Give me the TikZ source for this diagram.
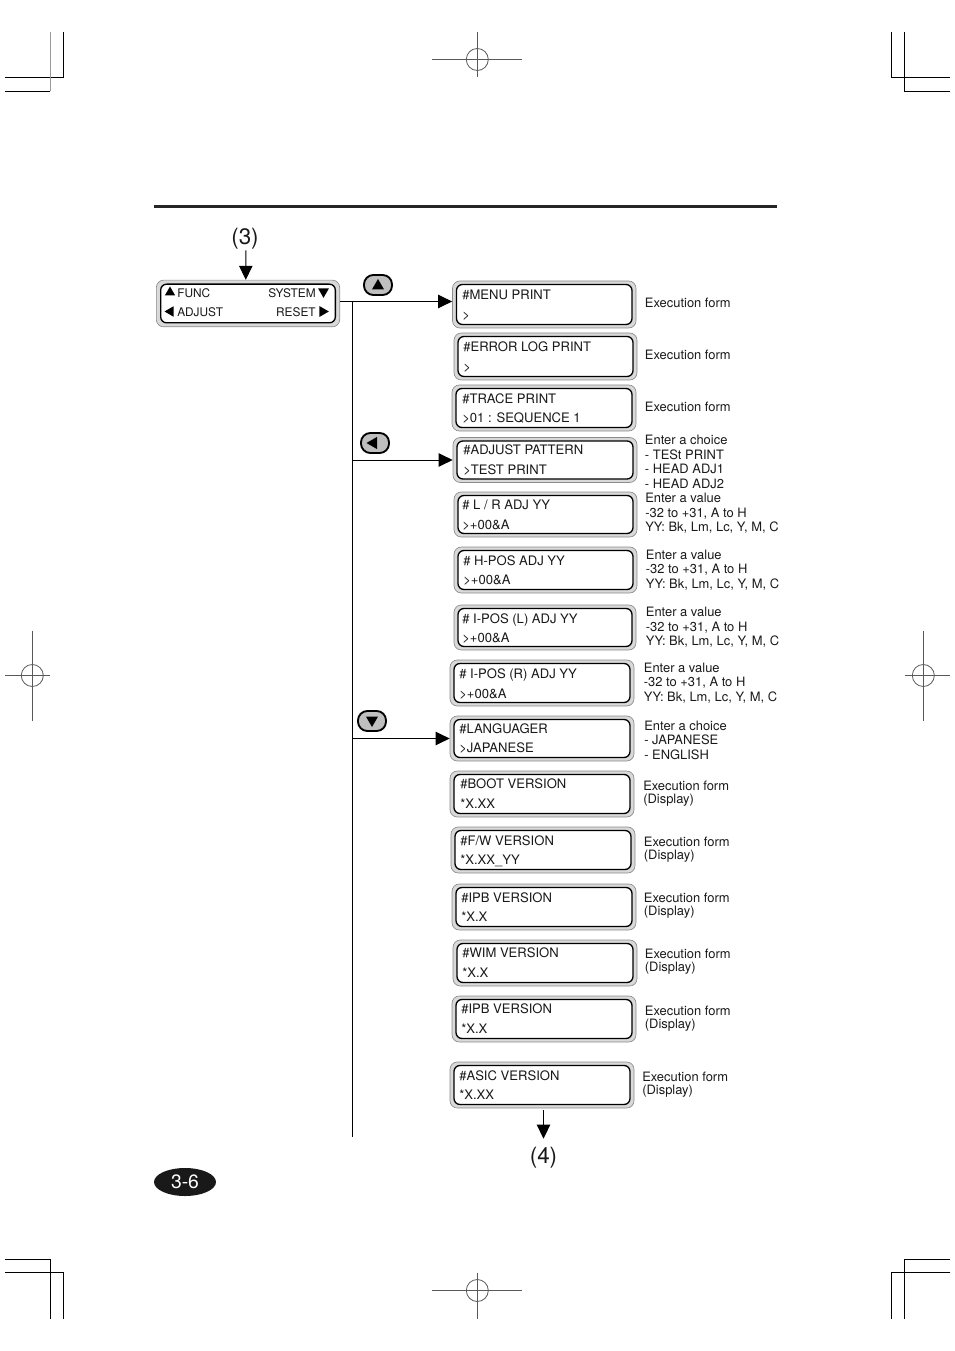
\documentclass[tikz,border=0pt]{standalone}
\usepackage{fontspec}
\setmainfont{TeX Gyre Heros}
\usetikzlibrary{arrows.meta,shapes.geometric}
\tikzset{
    x=0.75pt, y=-0.75pt,
    mark line/.style={draw=black, line width=0.75pt},
    gray mark/.style={draw=black!40, line width=0.75pt},
    cross line/.style={draw=black!65, line width=0.6pt},
    lcd outer/.style={rectangle, draw=black!45, fill=black!15, line width=0.5pt, rounded corners=5.5pt, inner sep=0pt},
    lcd inner/.style={rectangle, draw=black, fill=white, line width=1pt, rounded corners=4.5pt, inner sep=0pt},
    lcd text/.style={anchor=base west, inner sep=0pt, yshift=-3.5pt, font=\fontsize{9.8pt}{10pt}\selectfont, text=black!90},
    small text/.style={anchor=base west, inner sep=0pt, yshift=-3.2pt, font=\fontsize{8.9pt}{10pt}\selectfont, text=black!90},
    note text/.style={anchor=base west, inner sep=0pt, yshift=-3.5pt, font=\fontsize{9.7pt}{10pt}\selectfont, text=black!90},
    key box/.style={rectangle, draw=black, fill=black!25, line width=1.4pt, rounded corners=7pt, minimum width=21pt, minimum height=15pt, inner sep=0pt},
    tri/.style={regular polygon, regular polygon sides=3, fill=black, inner sep=0pt, minimum size=#1},
    step label/.style={inner sep=0pt, font=\fontsize{16.8pt}{18pt}\selectfont, text=black!90},
    link/.style={draw=black, line width=0.75pt},
    head/.style={-{Triangle[length=10.5pt,width=10pt]}},
}
\begin{document}
\begin{tikzpicture}
    \useasboundingbox (0, 0) rectangle (954, 1351);

    % trim marks
    \begin{scope}[shift={(0.3, 0.5)}]
        \draw[mark line] (5, 77) -- (63, 77) -- (63, 32);
        \draw[mark line] (5, 91) -- (50, 91);
        \draw[gray mark] (50, 91) -- (50, 32);
        \draw[mark line] (950, 77) -- (891, 77) -- (891, 32);
        \draw[mark line] (950, 91) -- (904, 91) -- (904, 32);
        \draw[mark line] (5, 1259) -- (50, 1259) -- (50, 1318);
        \draw[mark line] (5, 1272) -- (63, 1272) -- (63, 1318);
        \draw[mark line] (950, 1259) -- (904, 1259) -- (904, 1318);
        \draw[mark line] (950, 1272) -- (891, 1272) -- (891, 1318);

        \foreach \cx/\cy in {477/59, 477/1290, 32/675, 923/675} {
            \draw[cross line] (\cx, \cy) circle[radius=11];
        }
        \draw[cross line] (432, 59) -- (522, 59);
        \draw[cross line] (477, 32) -- (477, 77);
        \draw[cross line] (432, 1290) -- (522, 1290);
        \draw[cross line] (477, 1272) -- (477, 1318);
        \draw[cross line] (5, 675) -- (50, 675);
        \draw[cross line] (32, 630) -- (32, 720);
        \draw[cross line] (905, 675) -- (950, 675);
        \draw[cross line] (923, 630) -- (923, 720);
    \end{scope}

    \fill[black!85] (154, 205) rectangle (777, 208);

    % function panel
    \node[lcd outer, minimum width=137.5pt, minimum height=35pt] (main) at (248, 303.5) {};
    \node[lcd inner, minimum width=131pt, minimum height=29pt] (main-lcd) at (248, 303.5) {};
    \node[small text] (func) at (177, 293.5) {FUNC};
    \node[small text] (adjust) at (177, 312.5) {ADJUST};
    \node[small text, anchor=base east] (system) at (316, 293.5) {SYSTEM};
    \node[small text, anchor=base east] (reset) at (316, 312.5) {RESET};
    \node[tri=9pt] (func-up) at (170, 292.5) {};
    \node[tri=9pt, shape border rotate=90] (adjust-left) at (170.5, 311.5) {};
    \node[tri=9.5pt, shape border rotate=180] (system-down) at (323.5, 291.5) {};
    \node[tri=9.5pt, shape border rotate=270] (reset-right) at (322.5, 311.5) {};

    % menu panels
    \foreach \name/\xa/\xb/\ya/\yb/\xt/\yta/\ytb/\lna/\lnb in {
        menu-print/452.5/636/281/328/462/294.5/314.5/{\#MENU PRINT}/{>},
        error-log/454/637/333/380/463/346.5/366.5/{\#ERROR LOG PRINT}/{>},
        trace-print/452/636/385/431/462/398.5/417.5/{\#TRACE PRINT}/{>01 : SEQUENCE 1},
        adjust-pattern/453/637/437.5/482.5/463/449.5/469.5/{\#ADJUST PATTERN}/{>TEST PRINT},
        lr-adj/454/637/492/537/462/504.5/524.5/{\# L / R ADJ YY}/{>+00\&A},
        hpos-adj/454/637/547/593/463/560.5/579.5/{\# H-POS ADJ YY}/{>+00\&A},
        ipos-l/454/636/605/650/462/618.5/637.5/{\# I-POS (L) ADJ YY}/{>+00\&A},
        ipos-r/450/634/660/706/459/673.5/693.5/{\# I-POS (R) ADJ YY}/{>+00\&A},
        languager/450/634/716/761/459/728.5/747.5/{\#LANGUAGER}/{>JAPANESE},
        boot-version/450/634/771/817/460/783.5/803.5/{\#BOOT VERSION}/{*X.XX},
        fw-version/451/635/827/873/460/840.5/859.5/{\#F/W VERSION}/{*X.XX\_YY},
        ipb-version/452/636/884/930/461/897.5/916.5/{\#IPB VERSION}/{*X.X},
        wim-version/453/637/940/986/462/952.5/972.5/{\#WIM VERSION}/{*X.X},
        ipb-version-b/452/636/996/1042/461/1008.5/1028.5/{\#IPB VERSION}/{*X.X},
        asic-version/450/634/1062/1108/459/1075.5/1094.5/{\#ASIC VERSION}/{*X.XX}
    } {
        \node[lcd outer, minimum width={(\xb-\xa)*0.75pt}, minimum height={(\yb-\ya)*0.75pt}] (\name) at ({(\xa+\xb)/2}, {(\ya+\yb)/2}) {};
        \node[lcd inner, minimum width={(\xb-\xa-8)*0.75pt}, minimum height={(\yb-\ya-7)*0.75pt}] (\name-lcd) at ({(\xa+\xb)/2}, {(\ya+\yb)/2}) {};
        \node[lcd text] (\name-top) at (\xt, \yta) {\lna};
        \node[lcd text] (\name-bot) at (\xt, \ytb) {\lnb};
    }

    % notes right of the panels
    \foreach \xn/\yn/\txt in {
        644.7/302.5/{Execution form}, 644.7/355/{Execution form}, 644.7/406.5/{Execution form},
        644.7/439.5/{Enter a choice}, 644.7/455/{- TESt PRINT}, 644.7/469/{- HEAD ADJ1}, 644.7/484/{- HEAD ADJ2},
        645/498/{Enter a value}, 645/513/{-32 to +31, A to H}, 645/527/{YY: Bk, Lm, Lc, Y, M, C},
        645.6/555/{Enter a value}, 645.6/569/{-32 to +31, A to H}, 645.6/584/{YY: Bk, Lm, Lc, Y, M, C},
        645.6/612/{Enter a value}, 645.6/627/{-32 to +31, A to H}, 645.6/641/{YY: Bk, Lm, Lc, Y, M, C},
        643.6/668/{Enter a value}, 643.6/682/{-32 to +31, A to H}, 643.6/697/{YY: Bk, Lm, Lc, Y, M, C},
        644/726/{Enter a choice}, 644/740/{- JAPANESE}, 644/755/{- ENGLISH},
        643/786/{Execution form}, 643/799/{(Display)},
        643.6/842/{Execution form}, 643.6/855/{(Display)},
        643.6/898/{Execution form}, 643.6/911/{(Display)},
        644.6/954/{Execution form}, 644.6/967/{(Display)},
        644.6/1011/{Execution form}, 644.6/1024/{(Display)},
        642/1077/{Execution form}, 642/1090/{(Display)}
    } {
        \node[note text] at (\xn, \yn) {\txt};
    }

    % keys
    \node[key box] (key-up) at (378, 285) {};
    \node[tri=10.5pt] at (378, 286) {};
    \node[key box] (key-left) at (375, 443) {};
    \node[tri=10.5pt, shape border rotate=90] at (373.5, 443) {};
    \node[key box] (key-down) at (372, 721) {};
    \node[tri=10.5pt, shape border rotate=180] at (372, 720) {};

    % connectors
    \coordinate (trunk-top) at (352.5, 301.5);
    \coordinate (trunk-end) at (352.5, 1137);
    \draw[link] (trunk-top) -- (trunk-end);
    \draw[link, head] (main.east |- trunk-top) -- (menu-print.west |- trunk-top);
    \draw[link, head] (trunk-top |- adjust-pattern.west) -- (adjust-pattern.west);
    \draw[link, head] (trunk-top |- languager.west) -- (languager.west);

    \node[step label, minimum height=16.5pt] (step-three) at (245, 239) {(3)};
    \node[step label, minimum height=28.5pt] (step-four) at (543.5, 1158) {(4)};
    \draw[link, head] (step-three.south) ++(0.8, 0) -- ([xshift=0.6pt]step-three.south |- main.north);
    \draw[link, head, shorten <=1.5pt] (asic-version.south -| step-four.north) -- (step-four.north);

    \node[ellipse, fill=black!90, text=white, minimum width=46.5pt, minimum height=21pt, inner sep=0pt, font=\fontsize{14.5pt}{16pt}\selectfont] (page-no) at (185, 1182) {3-6};
\end{tikzpicture}
\end{document}
